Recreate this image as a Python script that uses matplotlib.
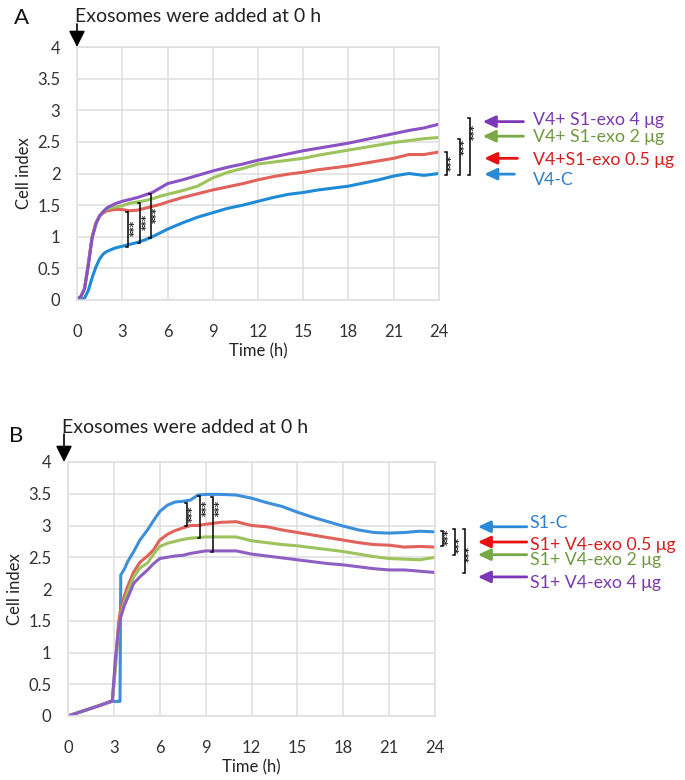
import matplotlib
matplotlib.use("Agg")
import matplotlib.pyplot as plt

plt.rcParams['font.family'] = ['Lato', 'DejaVu Sans']

# ---------------- data: panel A ----------------
tA = [0, 0.25, 0.5, 0.75, 1, 1.25, 1.5, 1.75, 2, 2.5, 3, 3.5, 4, 4.5, 5, 5.5, 6,
      7, 8, 9, 10, 11, 12, 13, 14, 15, 16, 17, 18, 19, 20, 21, 22, 23, 24]
A_V4C = [0.0, 0.0, 0.03, 0.15, 0.35, 0.52, 0.65, 0.73, 0.77, 0.82, 0.85, 0.88, 0.91, 0.95, 1.0, 1.06, 1.12,
         1.22, 1.31, 1.38, 1.45, 1.50, 1.56, 1.62, 1.67, 1.70, 1.74, 1.77, 1.80, 1.85, 1.90, 1.96, 2.00, 1.97, 2.00]
A_05 = [0.02, 0.05, 0.18, 0.58, 1.0, 1.22, 1.33, 1.38, 1.41, 1.43, 1.43, 1.41, 1.42, 1.45, 1.48, 1.51, 1.55,
        1.62, 1.68, 1.74, 1.79, 1.84, 1.90, 1.95, 1.99, 2.02, 2.06, 2.09, 2.12, 2.16, 2.20, 2.24, 2.30, 2.30, 2.34]
A_2 = [0.02, 0.05, 0.18, 0.55, 0.98, 1.20, 1.33, 1.40, 1.44, 1.47, 1.49, 1.53, 1.55, 1.57, 1.60, 1.64, 1.67,
       1.73, 1.80, 1.93, 2.02, 2.08, 2.15, 2.18, 2.21, 2.24, 2.29, 2.33, 2.37, 2.41, 2.45, 2.49, 2.52, 2.55, 2.57]
A_4 = [0.02, 0.05, 0.18, 0.55, 0.98, 1.20, 1.33, 1.40, 1.46, 1.52, 1.56, 1.59, 1.62, 1.66, 1.70, 1.77, 1.84,
       1.90, 1.97, 2.04, 2.10, 2.15, 2.21, 2.26, 2.31, 2.36, 2.40, 2.44, 2.48, 2.53, 2.58, 2.63, 2.68, 2.72, 2.78]

# ---------------- data: panel B ----------------
tB = [0, 1, 2, 2.9, 3.1, 3.3, 3.4, 3.45, 3.7, 3.9, 4.3, 4.7, 5.2, 5.6, 6, 6.5, 7, 7.5, 8, 8.5, 9,
      10, 11, 12, 13, 14, 15, 16, 17, 18, 19, 20, 21, 22, 23, 24]
B_S1C = [0, 0.08, 0.16, 0.23, 0.23, 0.23, 0.23, 2.22, 2.32, 2.43, 2.59, 2.77, 2.93, 3.08, 3.22, 3.32, 3.37, 3.38, 3.40, 3.48, 3.49,
         3.49, 3.48, 3.43, 3.36, 3.30, 3.21, 3.13, 3.06, 2.99, 2.93, 2.89, 2.88, 2.89, 2.91, 2.90]
B_05 = [0, 0.08, 0.16, 0.24, 0.80, 1.46, 1.62, 1.68, 1.90, 2.04, 2.27, 2.42, 2.52, 2.62, 2.77, 2.86, 2.92, 2.96, 3.00, 3.00, 3.02,
        3.05, 3.06, 3.00, 2.98, 2.93, 2.89, 2.85, 2.81, 2.77, 2.73, 2.70, 2.69, 2.66, 2.67, 2.66]
B_2 = [0, 0.08, 0.16, 0.24, 0.75, 1.35, 1.50, 1.58, 1.80, 1.95, 2.19, 2.33, 2.41, 2.55, 2.67, 2.72, 2.75, 2.78, 2.80, 2.81, 2.82,
       2.82, 2.82, 2.76, 2.73, 2.70, 2.68, 2.65, 2.62, 2.59, 2.55, 2.51, 2.48, 2.47, 2.46, 2.50]
B_4 = [0, 0.08, 0.16, 0.24, 0.90, 1.35, 1.48, 1.56, 1.75, 1.86, 2.09, 2.19, 2.30, 2.40, 2.48, 2.50, 2.52, 2.53, 2.56, 2.58, 2.60,
       2.60, 2.60, 2.55, 2.52, 2.49, 2.46, 2.43, 2.40, 2.38, 2.35, 2.32, 2.30, 2.30, 2.28, 2.26]

labelsA = ['V4+ S1-exo 4 μg', 'V4+ S1-exo 2 μg', 'V4+S1-exo 0.5 μg', 'V4-C']
labelsB = ['S1-C', 'S1+ V4-exo 0.5 μg', 'S1+ V4-exo 2 μg', 'S1+ V4-exo 4 μg']
yticks = [0, 0.5, 1, 1.5, 2, 2.5, 3, 3.5, 4]
ytick_labels = ['0', '0.5', '1', '1.5', '2', '2.5', '3', '3.5', '4']
xticks = [0, 3, 6, 9, 12, 15, 18, 21, 24]

# colours
c_blue, c_red, c_green, c_purple = '#1f8ad6', '#e0625a', '#9cc35c', '#8a52c4'
a_blue, a_red, a_green, a_purple = '#2a8ad6', '#e81010', '#78a848', '#7a38b8'
t_blue, t_red, t_green, t_purple = '#2f7fcf', '#d42020', '#6f9a40', '#7a3aae'

W, H = 685, 780
fig = plt.figure(figsize=(W / 100, H / 100), dpi=100)


def fx(px):
    return px / W


def fy(py):
    return 1 - py / H


def style_axes(ax):
    ax.set_xlim(0, 24)
    ax.set_ylim(0, 4)
    ax.set_xticks(xticks)
    ax.set_yticks(yticks)
    ax.set_yticklabels(ytick_labels)
    ax.grid(True, color='#dedede', lw=1.1)
    ax.set_axisbelow(True)
    for s in ax.spines.values():
        s.set_color('#dedede')
        s.set_linewidth(1.1)
    ax.tick_params(length=0, labelsize=12, colors='#333333')
    ax.tick_params(axis='y', pad=12)
    ax.tick_params(axis='x', pad=17)
    ax.set_ylabel('Cell index', fontsize=12, color='#222222', labelpad=4)
    ax.set_xlabel('Time (h)', fontsize=12, color='#222222', labelpad=3)


def bracket(ax, x, y0, y1, tick=0.15):
    ax.plot([x - tick, x, x, x - tick], [y0, y0, y1, y1], color='black', lw=1.1, clip_on=False,
            solid_joinstyle='miter', zorder=5)


def stars(ax, x, y):
    ax.text(x, y, '***', rotation=90, fontsize=7.5, ha='center', va='center', color='#222222',
            clip_on=False, family='DejaVu Sans', fontweight='bold', zorder=5)


def legend_arrow(ax, x0, x1, y, col):
    ax.annotate('', xy=(x1, y), xytext=(x0, y), xycoords='data', textcoords='data',
                annotation_clip=False,
                arrowprops=dict(arrowstyle='-|>,head_length=0.75,head_width=0.35', color=col, lw=2.0,
                                shrinkA=0, shrinkB=0))


# ---------------- panel A ----------------
axA = fig.add_axes([fx(77), fy(300), fx(439) - fx(77), fy(47) - fy(300)])
style_axes(axA)
lw = 2.2
axA.plot(tA, A_V4C, color=c_blue, lw=lw)
axA.plot(tA, A_05, color=c_red, lw=lw)
axA.plot(tA, A_2, color=c_green, lw=lw)
axA.plot(tA, A_4, color=c_purple, lw=lw)

for x, y0, y1 in [(3.4, 0.84, 1.39), (4.18, 0.90, 1.54), (4.89, 0.98, 1.67)]:
    bracket(axA, x, y0, y1, tick=0.12)
    stars(axA, x + 0.42, (y0 + y1) / 2 + 0.02)

bracket(axA, 24.53, 1.97, 2.34, tick=0.12)
stars(axA, 24.87, 2.17)
bracket(axA, 25.4, 1.97, 2.54, tick=0.12)
stars(axA, 25.72, 2.42)
bracket(axA, 26.06, 1.97, 2.87, tick=0.12)
stars(axA, 26.36, 2.66)

arrA = [(29.6, 26.9, 2.82, a_purple), (29.6, 26.9, 2.59, a_green), (29.2, 27.0, 2.24, a_red), (29.0, 27.0, 1.99, a_blue)]
txtA = [(2.84, t_purple), (2.57, t_green), (2.21, t_red), (1.90, t_blue)]
for (x0, x1, y, col) in arrA:
    legend_arrow(axA, x0, x1, y, col)
for lab, (y, col) in zip(labelsA, txtA):
    axA.text(30.2, y, lab, color=col, fontsize=12.8, va='center', ha='left', clip_on=False)

# ---------------- panel B ----------------
axB = fig.add_axes([fx(68), fy(716), fx(435) - fx(68), fy(462) - fy(716)])
style_axes(axB)
axB.plot(tB, B_S1C, color='#3d8fdc', lw=lw)
axB.plot(tB, B_05, color=c_red, lw=lw)
axB.plot(tB, B_2, color=c_green, lw=lw)
axB.plot(tB, B_4, color='#8e5fc2', lw=lw)

for x, y0, y1 in [(7.76, 2.99, 3.36), (8.63, 2.80, 3.46), (9.5, 2.59, 3.45)]:
    bracket(axB, x, y0, y1, tick=0.12)
    stars(axB, x + 0.42, y1 - 0.18)

bracket(axB, 24.53, 2.67, 2.92, tick=0.12)
stars(axB, 24.9, 2.82)
bracket(axB, 25.3, 2.54, 2.94, tick=0.12)
stars(axB, 25.62, 2.70)
bracket(axB, 25.96, 2.25, 2.94, tick=0.12)
stars(axB, 26.3, 2.55)

arrB = [(30.0, 26.8, 2.98, a_blue), (30.0, 26.8, 2.74, a_red), (30.0, 26.8, 2.54, a_green), (30.0, 26.8, 2.19, a_purple)]
txtB = [(3.04, t_blue), (2.69, t_red), (2.45, t_green), (2.09, t_purple)]
for (x0, x1, y, col) in arrB:
    legend_arrow(axB, x0, x1, y, col)
for lab, (y, col) in zip(labelsB, txtB):
    axB.text(30.2, y, lab, color=col, fontsize=12.8, va='center', ha='left', clip_on=False)

# ---------------- panel letters & exosome annotation ----------------
fig.text(fx(14), fy(18), 'A', fontsize=16, va='center', ha='left', color='#111111')
fig.text(fx(9), fy(436), 'B', fontsize=16, va='center', ha='left', color='#111111')

for (px, ptext, ptop, pbot) in [(77, 16, 24, 47), (64, 427, 434, 462)]:
    fig.text(fx(px - 2), fy(ptext), 'Exosomes were added at 0 h', fontsize=14.0, va='center', ha='left',
             color='#222222')
    fig.add_artist(matplotlib.patches.FancyArrowPatch(
        (fx(px), fy(ptop)), (fx(px), fy(pbot)), transform=fig.transFigure,
        arrowstyle='-|>,head_length=0.7,head_width=0.35', color='black', lw=1.2,
        shrinkA=0, shrinkB=0, mutation_scale=14))

fig.savefig('out.png', dpi=100, facecolor='white')
